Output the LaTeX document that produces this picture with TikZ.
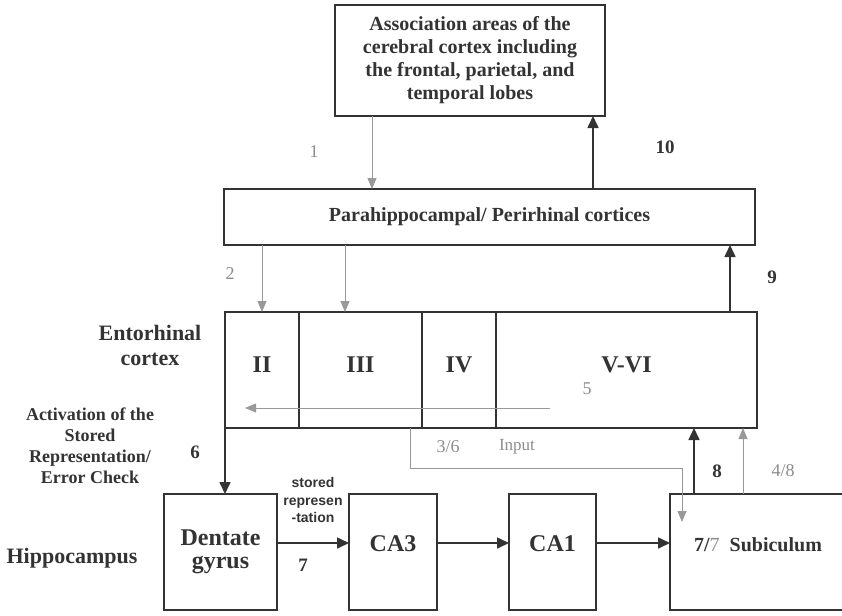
\documentclass[tikz,border=0pt]{standalone}
\usepackage{fontspec}
\setmainfont{Liberation Serif}
\setsansfont{Liberation Sans}
\usepackage{tikz}
\usetikzlibrary{positioning}
\usetikzlibrary{arrows.meta}
\definecolor{darkline}{gray}{0.2}
\definecolor{lightline}{gray}{0.6}
\definecolor{greytext}{gray}{0.55}

\begin{document}
\begin{tikzpicture}[x=1pt, y=-1pt,
  box/.style = {draw=darkline, line width=1.5pt, inner sep=0pt, outer sep=0pt, align=center, text=darkline},
  big/.style = {font=\bfseries\fontsize{24}{23}\selectfont},
  mid/.style = {font=\bfseries\fontsize{20}{23}\selectfont},
  cell/.style = {text height=12pt, text depth=8pt},
  raised/.style = {text height=11pt, text depth=13pt},
  dark/.style = {draw=darkline, line width=1.6pt, -{Triangle[length=12pt,width=11pt]}},
  light/.style = {draw=lightline, line width=1pt, -{Triangle[length=11pt,width=9pt]}},
  num/.style = {text=darkline, font=\bfseries\fontsize{19}{19}\selectfont},
  greynum/.style = {text=greytext, font=\fontsize{18}{18}\selectfont},
  side/.style = {text=darkline, align=center, font=\bfseries\fontsize{22}{25}\selectfont}]
            \useasboundingbox (0,0) rectangle (842,615);
            % Nodes
            \node[box, mid, minimum width=270, minimum height=111] (assoc) at (470,60.5) {Association areas of the\\cerebral cortex including\\the frontal, parietal, and\\temporal lobes};
            \node[box, mid, minimum width=531, minimum height=56] (para) at (489.5,217) {Parahippocampal/ Perirhinal cortices};
            \node[box, big, cell, minimum width=74, minimum height=116] (ii) at (262,370) {II};
            \node[box, big, cell, minimum width=123, minimum height=116] (iii) [right=0pt of ii] {III};
            \node[box, big, cell, minimum width=74, minimum height=116] (iv) [right=0pt of iii] {IV};
            \node[box, big, cell, minimum width=261, minimum height=116] (vvi) [right=0pt of iv] {V-VI};
            \node[box, big, minimum width=113, minimum height=116] (dg) at (220.5,552) {Dentate\\gyrus};
            \node[box, big, raised, minimum width=88, minimum height=116] (ca3) [right=72pt of dg] {CA3};
            \node[box, big, raised, minimum width=87, minimum height=116] (ca1) [right=72pt of ca3] {CA1};
            \node[box, mid, raised, minimum width=176, minimum height=116] (sub) [right=74pt of ca1] {7/{\color{greytext}\mdseries 7}\ \ Subiculum};
            % Labels
            \node[side] (entlabel) at (150,345) {Entorhinal\\cortex};
            \node[side, font=\bfseries\fontsize{18}{21}\selectfont] (actlabel) at (90,446) {Activation of the\\Stored\\Representation/\\Error Check};
            \node[side] (hipplabel) at (72,558) {Hippocampus};
            \node[text=darkline, align=center, font=\sffamily\bfseries\fontsize{14}{17.5}\selectfont] (stored) at (313,500) {stored\\represen\\-tation};
            \node[greynum] (n1) at (314,152) {1};
            \node[num] (n10) at (665,147) {10};
            \node[greynum] (n2) at (230,274) {2};
            \node[num] (n9) at (772,277) {9};
            \node[greynum] (n5) at (587,389) {5};
            \node[greynum] (n36) at (448,447) {3/6};
            \node[greynum, font=\fontsize{17}{17}\selectfont] (ninput) at (517,447) {Input};
            \node[num] (n6) at (195,452) {6};
            \node[num] (n7) at (303,565) {7};
            \node[num] (n8) at (717,471) {8};
            \node[greynum] (n48) at (783,471) {4/8};
            \coordinate (inputend) at ([xshift=12pt,yshift=-28pt]sub.north west);
            % Edges
            \draw[light] ([xshift=-98pt]assoc.south) -- ([xshift=-98pt]assoc.south |- para.north);
            \draw[dark] ([xshift=123pt]assoc.south |- para.north) -- ([xshift=123pt]assoc.south);
            \draw[light] (ii.north |- para.south) -- (ii.north);
            \draw[light] ([xshift=-15.5pt]iii.north |- para.south) -- ([xshift=-15.5pt]iii.north);
            \draw[dark] ([xshift=103.5pt]vvi.north) -- ([xshift=103.5pt]vvi.north |- para.south);
            \draw[light, line width=0.8pt] ([xshift=54pt,yshift=-38pt]vvi.west) -- ([xshift=20pt,yshift=-38pt]ii.west);
            \draw[dark] (ii.south west) -- (ii.south west |- dg.north);
            \draw[dark] ([yshift=9pt]dg.east) -- ([yshift=9pt]ca3.west);
            \draw[dark] ([yshift=9pt]ca3.east) -- ([yshift=9pt]ca1.west);
            \draw[dark] ([yshift=9pt]ca1.east) -- ([yshift=9pt]sub.west);
            \draw[dark] ([xshift=24pt]sub.north west) -- ([xshift=24pt]sub.north west |- vvi.south);
            \draw[light] ([xshift=73pt]sub.north west) -- ([xshift=73pt]sub.north west |- vvi.south);
            \draw[light, line width=0.8pt] ([xshift=49.5pt]iii.south) |- ([yshift=54pt]inputend) -- (inputend);
            \end{tikzpicture}
\end{document}
